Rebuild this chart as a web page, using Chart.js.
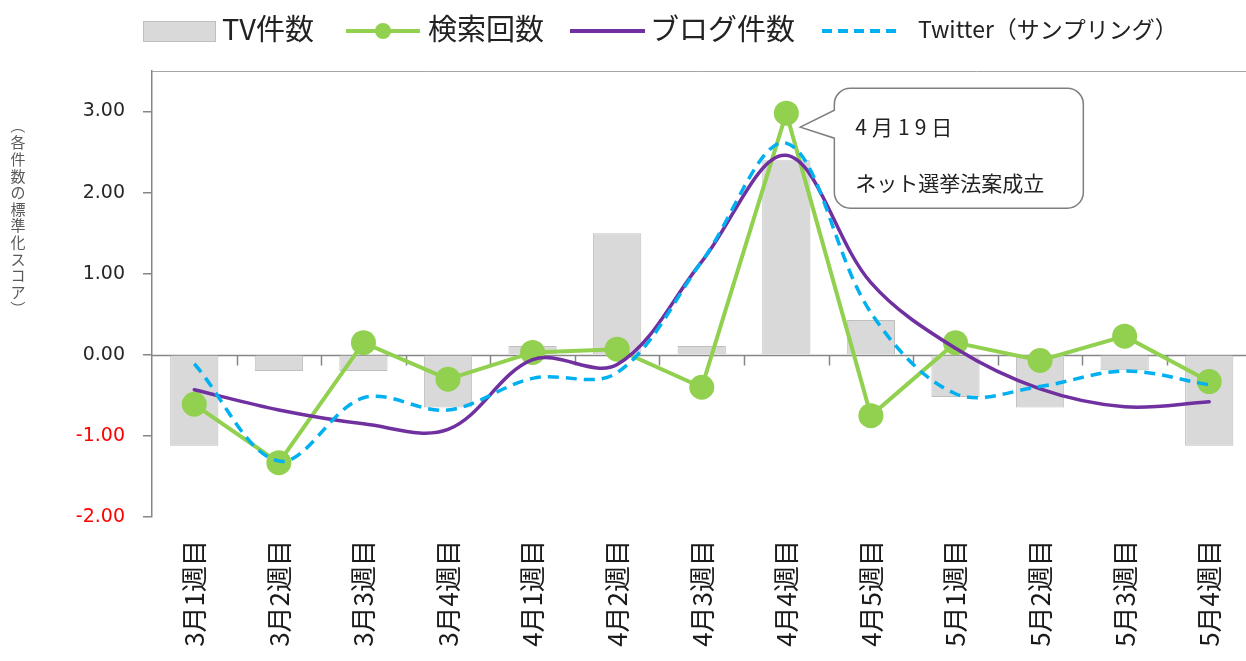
<!DOCTYPE html>
<html>
<head>
<meta charset="utf-8">
<style>
  html, body { margin: 0; padding: 0; background: #fff; overflow: hidden; }
  #wrap { position: absolute; left: 0; top: 0; width: 1264px; height: 700px; }
</style>
<script src="https://cdn.jsdelivr.net/npm/chart.js@4.4.1/dist/chart.umd.min.js"></script>
</head>
<body>
<div id="wrap"><canvas id="chart" width="1264" height="700"></canvas></div>
<script>
// ---- data (standardised scores) ----
const categories = ['3月1週目', '3月2週目', '3月3週目', '3月4週目', '4月1週目', '4月2週目', '4月3週目',
                    '4月4週目', '4月5週目', '5月1週目', '5月2週目', '5月3週目', '5月4週目'];
const tvCounts      = [-1.12, -0.20, -0.20, -0.65, 0.11, 1.50, 0.11, 2.40, 0.43, -0.52, -0.65, -0.19, -1.12];
const searchCounts  = [-0.61, -1.33, 0.15, -0.30, 0.03, 0.07, -0.40, 2.98, -0.75, 0.15, -0.07, 0.23, -0.33];
const blogCounts    = [-0.43, -0.68, -0.85, -0.92, -0.06, -0.12, 1.15, 2.46, 0.89, 0.08, -0.42, -0.64, -0.58];
const twitterCounts = [-0.11, -1.31, -0.53, -0.68, -0.29, -0.22, 1.15, 2.61, 0.52, -0.48, -0.39, -0.20, -0.37];
const yTicks = [-2, -1, 0, 1, 2, 3];

const seriesNames = ['TV件数', '検索回数', 'ブログ件数', 'Twitter（サンプリング）'];
const yTitle = '（各件数の標準化スコア）';
const calloutLines = ['4月19日', 'ネット選挙法案成立'];
const calloutIndex = 7;   // 4月4週目

const GREEN = '#92d050', PURPLE = '#7030a0', BLUE = '#00b0f0';
const AXIS = '#868686';
const JP = '"Noto Sans CJK JP", "Noto Sans", sans-serif';

// ---------- extra drawing: axis at zero, category ticks, frame ----------
const axisExtras = {
  id: 'axisExtras',
  beforeDatasetsDraw(chart) {
    const { ctx, chartArea: a, scales: { y } } = chart;
    const y0 = Math.round(y.getPixelForValue(0)) + 0.5;
    const step = (a.right - a.left) / categories.length;
    ctx.save();
    ctx.strokeStyle = AXIS;
    ctx.lineWidth = 1.5;
    ctx.beginPath();
    ctx.moveTo(a.left, y0); ctx.lineTo(a.right, y0);
    for (let k = 1; k < categories.length; k++) {
      const px = Math.round(a.left + k * step) + 0.5;
      ctx.moveTo(px, y0); ctx.lineTo(px, y0 + 10);
    }
    ctx.stroke();
    // top frame line
    ctx.strokeStyle = '#a6a6a6';
    ctx.lineWidth = 1;
    ctx.beginPath();
    ctx.moveTo(a.left, Math.round(a.top) + 0.5); ctx.lineTo(a.right, Math.round(a.top) + 0.5);
    ctx.stroke();
    ctx.restore();
  }
};

// ---------- legend, vertical y title, callout ----------
const overlay = {
  id: 'overlay',
  afterDraw(chart) {
    const { ctx } = chart;
    ctx.save();

    // legend
    const ly = 31;
    ctx.fillStyle = '#d9d9d9'; ctx.strokeStyle = '#bfbfbf'; ctx.lineWidth = 1;
    ctx.fillRect(143, 21, 72, 20); ctx.strokeRect(143.5, 21.5, 72, 20);

    ctx.lineCap = 'butt';
    ctx.strokeStyle = GREEN; ctx.lineWidth = 4;
    ctx.beginPath(); ctx.moveTo(346, ly); ctx.lineTo(420, ly); ctx.stroke();
    ctx.fillStyle = GREEN;
    ctx.beginPath(); ctx.arc(383, ly, 8, 0, Math.PI * 2); ctx.fill();

    ctx.strokeStyle = PURPLE; ctx.lineWidth = 4;
    ctx.beginPath(); ctx.moveTo(570, ly); ctx.lineTo(645, ly); ctx.stroke();

    ctx.strokeStyle = BLUE; ctx.lineWidth = 4; ctx.setLineDash([10, 6]);
    ctx.beginPath(); ctx.moveTo(822, ly); ctx.lineTo(897, ly); ctx.stroke();
    ctx.setLineDash([]);

    ctx.fillStyle = '#222';
    ctx.textBaseline = 'middle';
    ctx.textAlign = 'left';
    ctx.font = `29px ${JP}`;
    ctx.fillText(seriesNames[0], 222, 29);
    ctx.fillText(seriesNames[1], 428, 29);
    ctx.fillText(seriesNames[2], 650, 29);
    ctx.font = `23px ${JP}`;
    ctx.fillText(seriesNames[3], 918, 29);

    // y title, written vertically
    ctx.fillStyle = '#595959';
    ctx.font = `15px ${JP}`;
    ctx.textAlign = 'center';
    const chars = Array.from(yTitle);
    chars.forEach((c, i) => {
      const cy = 126 + i * 16.6;
      if (c === '（' || c === '）') {
        ctx.save();
        ctx.translate(18, cy);
        ctx.rotate(Math.PI / 2);
        ctx.fillText(c, 0, 0);
        ctx.restore();
      } else {
        ctx.fillText(c, 18, cy);
      }
    });

    // callout for the search peak
    const pt = chart.getDatasetMeta(1).data[calloutIndex];
    if (pt) {
      const tipX = pt.x + 14, tipY = pt.y + 14;
      const bx = pt.x + 48, by = pt.y - 25, bw = 249, bh = 120, r = 16;
      ctx.beginPath();
      ctx.moveTo(bx + r, by);
      ctx.lineTo(bx + bw - r, by);
      ctx.arcTo(bx + bw, by, bx + bw, by + r, r);
      ctx.lineTo(bx + bw, by + bh - r);
      ctx.arcTo(bx + bw, by + bh, bx + bw - r, by + bh, r);
      ctx.lineTo(bx + r, by + bh);
      ctx.arcTo(bx, by + bh, bx, by + bh - r, r);
      ctx.lineTo(bx, by + 50);
      ctx.lineTo(tipX, tipY);
      ctx.lineTo(bx, by + 22);
      ctx.lineTo(bx, by + r);
      ctx.arcTo(bx, by, bx + r, by, r);
      ctx.closePath();
      ctx.fillStyle = '#fff';
      ctx.fill();
      ctx.strokeStyle = '#7f7f7f';
      ctx.lineWidth = 1.5;
      ctx.stroke();

      ctx.fillStyle = '#222';
      ctx.textAlign = 'left';
      ctx.font = `21px ${JP}`;
      ctx.letterSpacing = '5px';
      ctx.fillText(calloutLines[0], bx + 21, by + 39);
      ctx.letterSpacing = '0px';
      ctx.fillText(calloutLines[1], bx + 21, by + 95);
    }
    ctx.restore();
  }
};

const ctx = document.getElementById('chart').getContext('2d');
new Chart(ctx, {
  data: {
    labels: categories,
    datasets: [
      {
        type: 'bar', label: seriesNames[0], data: tvCounts, order: 4,
        backgroundColor: '#d9d9d9', borderColor: '#bfbfbf', borderWidth: 1,
        categoryPercentage: 1, barPercentage: 0.57
      },
      {
        type: 'line', label: seriesNames[1], data: searchCounts, order: 3,
        borderColor: GREEN, backgroundColor: GREEN, borderWidth: 4,
        pointRadius: 12.5, pointBackgroundColor: GREEN, pointBorderWidth: 0,
        tension: 0
      },
      {
        type: 'line', label: seriesNames[2], data: blogCounts, order: 2,
        borderColor: PURPLE, borderWidth: 3.5, pointRadius: 0,
        tension: 0.35, borderCapStyle: 'round'
      },
      {
        type: 'line', label: seriesNames[3], data: twitterCounts, order: 1,
        borderColor: BLUE, borderWidth: 3.5, pointRadius: 0,
        borderDash: [11, 7], tension: 0.35
      }
    ]
  },
  options: {
    responsive: false,
    animation: false,
    layout: { padding: { top: 71, left: 0, right: 12, bottom: 0 } },
    plugins: { legend: { display: false }, tooltip: { enabled: false } },
    scales: {
      x: {
        offset: true,
        grid: { display: false, drawTicks: false },
        border: { display: false },
        ticks: {
          autoSkip: false, minRotation: 90, maxRotation: 90, padding: 23,
          color: '#1a1a1a', font: { family: JP, size: 26 }
        },
        afterFit(s) { s.height = 700 - 517; }
      },
      y: {
        min: -2, max: 3.5,
        afterBuildTicks(s) { s.ticks = yTicks.map(v => ({ value: v })); },
        grid: { display: true, drawOnChartArea: false, drawTicks: true, tickLength: 9, color: AXIS, lineWidth: 1.5 },
        border: { display: true, color: AXIS, width: 1.5 },
        ticks: {
          padding: 18,
          callback: v => Number(v).toFixed(2),
          color: c => (c.tick && c.tick.value < 0) ? '#ff0000' : '#262626',
          font: { family: '"DejaVu Sans", Verdana, sans-serif', size: 19 }
        },
        afterFit(s) { s.width = 152; }
      }
    }
  },
  plugins: [axisExtras, overlay]
});
</script>
</body>
</html>
